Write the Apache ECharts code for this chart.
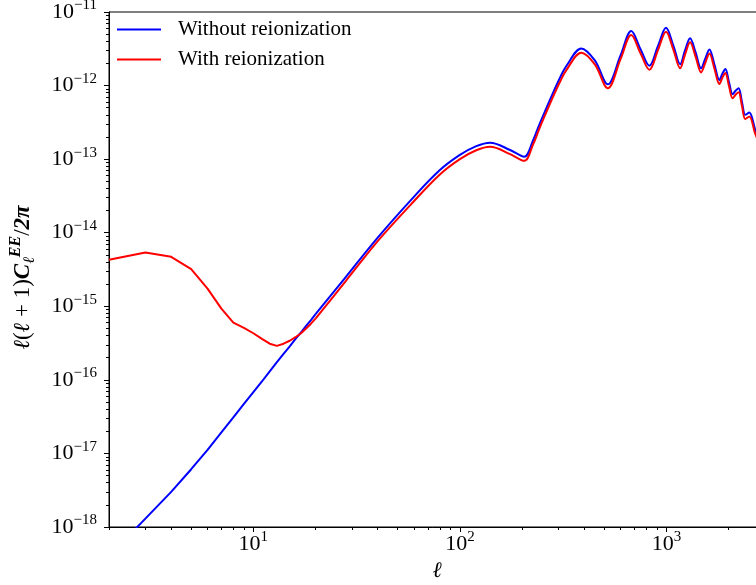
<!DOCTYPE html>
<html>
<head>
<meta charset="utf-8">
<script src="https://cdn.jsdelivr.net/npm/echarts@6/dist/echarts.min.js"></script>
<style>
  html, body { margin: 0; padding: 0; background: #fff; }
  #chart { width: 756px; height: 585px; }
</style>
</head>
<body>
<div id="chart"></div>
<script>
// l(l+1)C_l^EE/2pi
// low multipoles: integer l, drawn as straight segments
const ellLow = [2, 3, 4, 5, 6, 7, 8, 9, 10, 11, 12, 13, 14, 15, 16, 17, 18, 19, 20];
const clLowNoReion = [4.0e-19, 1.3e-18, 3.0e-18, 6.1e-18, 1.12e-17, 1.93e-17, 3.1e-17, 4.7e-17, 6.8e-17, 9.5e-17, 1.3e-16, 1.74e-16, 2.25e-16, 2.86e-16, 3.6e-16, 4.4e-16, 5.4e-16, 6.5e-16, 7.8e-16];
const clLowReion = [4.3e-15, 5.4e-15, 4.7e-15, 3.2e-15, 1.74e-15, 9.3e-16, 6.0e-16, 5.1e-16, 4.3e-16, 3.6e-16, 3.1e-16, 2.9e-16, 3.1e-16, 3.4e-16, 3.8e-16, 4.3e-16, 5.0e-16, 5.8e-16, 6.8e-16];

// higher multipoles: sparse points, smoothed
const ellHigh = [20, 28, 40, 60, 80, 100, 120, 140, 175, 205, 226, 243, 282, 304, 327, 387, 450, 520, 600, 675, 750, 827, 910, 995, 1080, 1165, 1230, 1301, 1385, 1471, 1540, 1614, 1710, 1804, 1865, 1928, 2010, 2091, 2160, 2235, 2320, 2409, 2518, 2692, 2850, 3000];
const clHighNoReion = [7.8e-16, 2.5e-15, 8.6e-15, 3.1e-14, 7.1e-14, 1.14e-13, 1.5e-13, 1.67e-13, 1.33e-13, 1.08e-13, 1.8e-13, 3.0e-13, 7.9e-13, 1.25e-12, 1.83e-12, 3.2e-12, 2.2e-12, 1.04e-12, 2.6e-12, 5.5e-12, 3.1e-12, 1.86e-12, 3.45e-12, 6.1e-12, 3.5e-12, 1.95e-12, 3.0e-12, 4.4e-12, 2.8e-12, 1.72e-12, 2.3e-12, 3.1e-12, 1.9e-12, 1.19e-12, 1.45e-12, 1.68e-12, 1.1e-12, 7.6e-13, 8.5e-13, 9.2e-13, 6.0e-13, 4.0e-13, 4.3e-13, 2.5e-13, 1.7e-13, 1.1e-13];
const clHighReion = [6.8e-16, 2.2e-15, 7.7e-15, 2.7e-14, 6.2e-14, 1.0e-13, 1.32e-13, 1.47e-13, 1.17e-13, 9.5e-14, 1.58e-13, 2.64e-13, 6.95e-13, 1.1e-12, 1.61e-12, 2.8e-12, 1.94e-12, 9.2e-13, 2.3e-12, 4.85e-12, 2.73e-12, 1.64e-12, 3.04e-12, 5.4e-12, 3.08e-12, 1.72e-12, 2.64e-12, 3.87e-12, 2.46e-12, 1.51e-12, 2.02e-12, 2.73e-12, 1.67e-12, 1.05e-12, 1.28e-12, 1.48e-12, 9.7e-13, 6.7e-13, 7.5e-13, 8.1e-13, 5.3e-13, 3.5e-13, 3.8e-13, 2.2e-13, 1.5e-13, 1.0e-13];

const xMajor = [10, 100, 1000];
const xMinor = [2, 3, 4, 5, 6, 7, 8, 9, 20, 30, 40, 50, 60, 70, 80, 90, 200, 300, 400, 500, 600, 700, 800, 900, 2000, 3000];
const yMajor = [1e-18, 1e-17, 1e-16, 1e-15, 1e-14, 1e-13, 1e-12, 1e-11];
let yMinor = [];
for (let e = -18; e < -11; e++) {
  for (let k = 2; k < 10; k++) yMinor.push(k * Math.pow(10, e));
}

const serif = "'Liberation Serif', 'DejaVu Serif', serif";
const BLUE = '#0000ff';
const RED = '#ff0000';

function pairs(xs, ys) {
  return xs.map((x, i) => [x, ys[i]]);
}

function powLabel(v) {
  const e = Math.round(Math.log10(v));
  return '{b|10}{s|' + String(e).replace('-', '\u2212') + '}';
}

const labelRich = {
  b: { fontFamily: serif, fontSize: 22, color: '#000', lineHeight: 28 },
  s: { fontFamily: serif, fontSize: 15, color: '#000', verticalAlign: 'top', lineHeight: 16 }
};

function curve(name, color, data, smooth) {
  return {
    name: name,
    type: 'line',
    symbol: 'none',
    smooth: smooth,
    clip: true,
    color: color,
    lineStyle: { width: 2, color: color },
    data: data
  };
}

let myChart = echarts.init(document.getElementById('chart'), null, { renderer: 'canvas' });

let option = {
  animation: false,
  backgroundColor: '#fff',
  grid: {
    left: 109, top: 12, width: 656, bottom: 58,
    outerBoundsMode: 'none',
    containLabel: false,
    show: true, borderColor: '#000', borderWidth: 1
  },
  legend: {
    left: 117, top: 19, padding: 0,
    orient: 'vertical',
    icon: 'rect',
    itemWidth: 44, itemHeight: 2, itemGap: 9,
    textStyle: { fontFamily: serif, fontSize: 21, color: '#000', lineHeight: 20, padding: [0, 0, 0, 12] },
    data: ['Without reionization', 'With reionization']
  },
  xAxis: [
    {
      type: 'log', logBase: 10, min: 2, max: 3000, position: 'bottom',
      name: 'ℓ', nameLocation: 'middle', nameGap: 30,
      nameTextStyle: { fontFamily: serif, fontSize: 22, fontStyle: 'italic', color: '#000' },
      axisLine: { lineStyle: { color: '#000', width: 1 } },
      axisTick: { customValues: xMajor, length: 5, lineStyle: { color: '#000' } },
      axisLabel: { customValues: xMajor, margin: 3, formatter: powLabel, rich: labelRich },
      splitLine: { show: false }
    },
    {
      type: 'log', logBase: 10, min: 2, max: 3000, position: 'bottom',
      axisLine: { show: false },
      axisTick: { customValues: xMinor, length: 3, lineStyle: { color: '#000' } },
      axisLabel: { show: false },
      splitLine: { show: false }
    }
  ],
  yAxis: [
    {
      type: 'log', logBase: 10, min: 1e-18, max: 1e-11, position: 'left',
      name: '{i|ℓ}{n|(}{i|ℓ}{n| + 1)}{c|C}{sub|ℓ}{sup|EE}{n|/}{p|2π}',
      nameLocation: 'middle', nameGap: 71,
      nameTextStyle: {
        padding: [0, 16, 0, 0],
        rich: {
          i: { fontFamily: serif, fontSize: 23, fontStyle: 'italic', color: '#000', lineHeight: 30 },
          n: { fontFamily: serif, fontSize: 23, color: '#000', lineHeight: 30 },
          c: { fontFamily: serif, fontSize: 23, fontStyle: 'italic', fontWeight: 'bold', color: '#000', lineHeight: 30 },
          sub: { fontFamily: serif, fontSize: 16, fontStyle: 'italic', color: '#000', verticalAlign: 'bottom', lineHeight: 15 },
          sup: { fontFamily: serif, fontSize: 16, fontStyle: 'italic', fontWeight: 'bold', color: '#000', verticalAlign: 'top', lineHeight: 15 },
          p: { fontFamily: serif, fontSize: 23, fontStyle: 'italic', fontWeight: 'bold', color: '#000', lineHeight: 30 }
        }
      },
      axisLine: { lineStyle: { color: '#000', width: 1 } },
      axisTick: { customValues: yMajor, length: 5, lineStyle: { color: '#000' } },
      axisLabel: { customValues: yMajor, margin: 12, formatter: powLabel, rich: labelRich },
      splitLine: { show: false }
    },
    {
      type: 'log', logBase: 10, min: 1e-18, max: 1e-11, position: 'left',
      axisLine: { show: false },
      axisTick: { customValues: yMinor, length: 3, lineStyle: { color: '#000' } },
      axisLabel: { show: false },
      splitLine: { show: false }
    }
  ],
  series: [
    curve('Without reionization', BLUE, pairs(ellLow, clLowNoReion), false),
    curve('Without reionization', BLUE, pairs(ellHigh, clHighNoReion), 0.35),
    curve('With reionization', RED, pairs(ellLow, clLowReion), false),
    curve('With reionization', RED, pairs(ellHigh, clHighReion), 0.35)
  ]
};

myChart.setOption(option);
</script>
</body>
</html>
